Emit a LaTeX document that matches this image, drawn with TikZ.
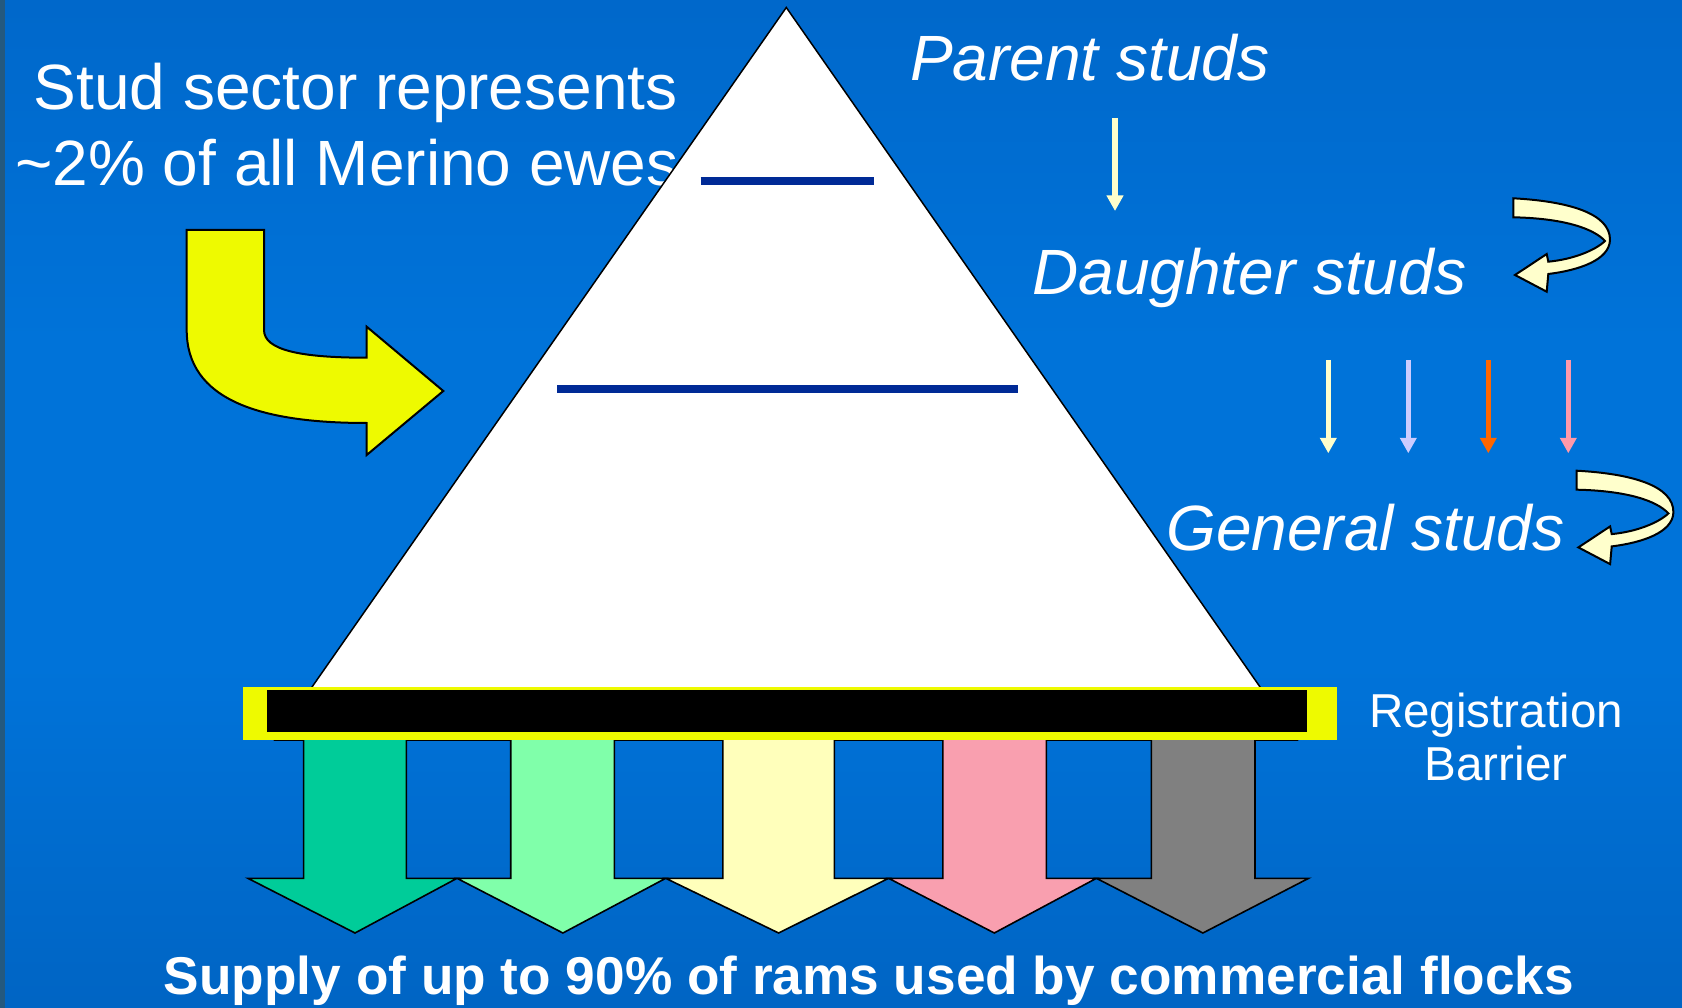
\documentclass[tikz,border=0pt]{standalone}
\usepackage{fontspec}
\setmainfont{Liberation Sans}
\usetikzlibrary{arrows.meta}
\definecolor{bgtop}{HTML}{0054A6}
\definecolor{bgupper}{HTML}{0066C8}
\definecolor{bgmid}{HTML}{0073D9}
\definecolor{bglow}{HTML}{0062C0}
\definecolor{bgbot}{HTML}{004C98}
\definecolor{stripc}{HTML}{24597F}
\definecolor{bigyellow}{HTML}{EEFA00}
\definecolor{cream}{HTML}{FFFFCC}
\definecolor{navy}{HTML}{002A96}
\definecolor{aGreen}{HTML}{00CC99}
\definecolor{aLgreen}{HTML}{80FFAA}
\definecolor{aYellow}{HTML}{FFFFBB}
\definecolor{aPink}{HTML}{F99FAF}
\definecolor{aGray}{HTML}{808080}
\definecolor{lav}{HTML}{CCCCFF}
\definecolor{orng}{HTML}{FF6600}
\definecolor{pnk}{HTML}{FF99AA}
\pgfdeclareverticalshading{bgshade}{100bp}{color(0bp)=(bgbot); color(22bp)=(bglow); color(42bp)=(bgmid); color(58bp)=(bgmid); color(78bp)=(bgupper); color(100bp)=(bgtop)}
\begin{document}
\begin{tikzpicture}[x=1pt,y=-1pt,
  bigtext/.style={text=white,inner sep=0pt,font=\fontsize{64}{76}\selectfont},
  bigit/.style={text=white,inner sep=0pt,font=\fontsize{64}{76}\selectfont\itshape},
  midtext/.style={text=white,inner sep=0pt,font=\fontsize{47.6}{53}\selectfont},
  boldtext/.style={text=white,inner sep=0pt,font=\fontsize{53.2}{60}\selectfont\bfseries},
  outl/.style={draw=black,line width=2pt,line join=miter},
  thinarrow/.style={line width=5.3pt,-{Triangle[length=15.5pt,width=16pt]}},
  looparrow/.pic={
    \draw[outl,fill=cream] (0,0) .. controls (55,3) and (97,15) .. (96.7,41.7)
      .. controls (96,62) and (65,72) .. (35,75.7)
      -- (33.4,93.4) -- (1.7,76.7) -- (33.4,55.7) -- (35,63.4)
      .. controls (60,61) and (82,52) .. (91.7,42.7)
      .. controls (80,30) and (50,20) .. (0,19) -- cycle;
  }]
\useasboundingbox (0,0) rectangle (1682,1008);
% background
\shade[shading=bgshade] (0,0) rectangle (1682,1008);
\fill[stripc] (0,0) rectangle (5,1008);

% left text
\node[bigtext,anchor=base] (stud1) at (355.7,110) {Stud sector represents};
\node[bigtext,anchor=base] (stud2) at (347,186) {\textasciitilde2\% of all Merino ewes};

% big yellow bent arrow
\draw[outl,fill=bigyellow] (186.7,230) -- (264,230) -- (264,330)
  .. controls (264,350) and (300,357.7) .. (366.7,357.7)
  -- (366.7,326.7) -- (443.3,391) -- (366.7,455) -- (366.7,423)
  .. controls (260,423) and (186.7,400) .. (186.7,330) -- cycle;

% triangle
\draw[fill=white,draw=black,line width=1.5pt] (786.3,7.5) -- (1297,740) -- (275,740) -- cycle;
\draw[navy,line width=7.5pt] (700.5,181) -- (874,181);
\draw[navy,line width=7.5pt] (557,389) -- (1018,389);

% bottom arrows
\foreach \sl/\sr/\hl/\hr/\tx/\c in {
  303.6/406.4/247.9/457/355/aGreen,
  510.7/614.3/457/665.7/562.9/aLgreen,
  722.9/834.3/665.7/888.6/778.6/aYellow,
  942.9/1046.4/888.6/1096.4/994.3/aPink,
  1151.4/1255/1096.4/1308.6/1202.9/aGray}{
  \draw[outl,line width=1.6pt,fill=\c] (\sl,735) -- (\sl,878.3) -- (\hl,878.3) -- (\tx,933)
    -- (\hr,878.3) -- (\sr,878.3) -- (\sr,735) -- cycle;
}

% registration barrier
\fill[bigyellow] (242.9,686.7) rectangle (1337,740);
\fill[black] (267,690) rectangle (1307,732);

% right texts
\node[bigit,anchor=base west] (parent) at (910,80.5) {Parent studs};
\node[bigit,anchor=base west] (daughter) at (1032,295) {Daughter studs};
\node[bigit,anchor=base west] (general) at (1166,550) {General studs};
\node[midtext,anchor=base] (reg) at (1496,727) {Registration};
\node[midtext,anchor=base] (barrier) at (1496,780) {Barrier};
\node[boldtext,anchor=base] (supply) at (869,994) {Supply of up to 90\% of rams used by commercial flocks};

% small straight arrows
\coordinate (pa) at (1115,118);
\coordinate (pb) at (1115,211);
\draw[thinarrow,cream] (pa) -- (pb);
\foreach \x/\c [count=\i] in {1328.3/cream,1408.3/lav,1488.3/orng,1568.3/pnk}{
  \coordinate (t\i) at (\x,360);
  \coordinate (b\i) at (\x,453.3);
  \draw[thinarrow,\c] (t\i) -- (b\i);
}

% loop arrows
\pic (loop1) at (1513.3,198.3) {looparrow};
\pic (loop2) at (1576.7,470.7) {looparrow};
\end{tikzpicture}
\end{document}
